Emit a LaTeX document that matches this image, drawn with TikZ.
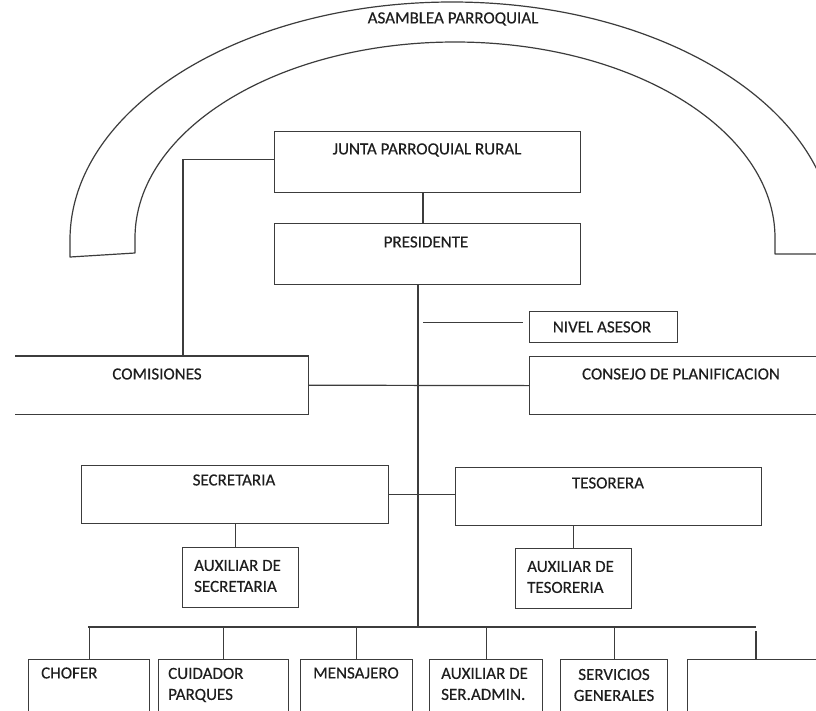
\documentclass[tikz,border=0pt]{standalone}
\usepackage{fontspec}
\setmainfont[FakeBold=0.3]{Carlito}
\definecolor{ln}{HTML}{3C3C3C}
\definecolor{tx}{HTML}{1E1E1E}
\begin{document}
\begin{tikzpicture}[x=1pt,y=-1pt,
  conn/.style={draw=ln, line width=1.2pt},
  archline/.style={draw=ln, line width=1.2pt, line join=round},
  box/.style={draw=ln, line width=1.2pt, rectangle, inner sep=0pt, anchor=north west},
  openbox/.style={rectangle, inner sep=0pt, anchor=north west},
  lbl/.style={font=\fontsize{17}{21}\selectfont, text=tx, inner sep=0pt}]
\useasboundingbox (0,0) rectangle (816,710);
\clip (0,0) rectangle (816,710);
\fill[white] (0,0) rectangle (816,710);

% arch
\draw[archline] (830,254) -- (775,254) -- (775,238)
  arc[start angle=0, end angle=180, x radius=320pt, y radius=196pt]
  -- (135,253) -- (70,257) -- (70,240)
  arc[start angle=180, end angle=0, x radius=382pt, y radius=238pt];
\node[lbl] (asamblea) at (453,19) {ASAMBLEA PARROQUIAL};

% boxes
\node[box, minimum width=306pt, minimum height=61pt] (junta) at (274,131) {};
\node[box, minimum width=306pt, minimum height=61pt] (pres) at (274,223) {};
\node[box, minimum width=148pt, minimum height=31pt] (asesor) at (529,311) {};
\node[box, minimum width=320pt, minimum height=58pt] (consejo) at (529,356) {};
\node[openbox, minimum width=293pt, minimum height=58pt] (com) at (15,356) {};
\draw[conn] (com.north west) -- (com.north east) -- (com.south east) -- (com.south west);
\node[box, minimum width=307pt, minimum height=58pt] (secr) at (81,465) {};
\node[box, minimum width=306pt, minimum height=58pt] (teso) at (455,467) {};
\node[box, minimum width=116pt, minimum height=60pt] (auxsec) at (182,547) {};
\node[box, minimum width=116pt, minimum height=60pt] (auxtes) at (515,548) {};
\node[box, minimum width=121pt, minimum height=80pt] (chofer) at (28,659) {};
\node[box, minimum width=130pt, minimum height=80pt] (cuid) at (158,659) {};
\node[box, minimum width=112pt, minimum height=80pt] (mens) at (300,659) {};
\node[box, minimum width=113pt, minimum height=80pt] (auxser) at (429,659) {};
\node[box, minimum width=107pt, minimum height=80pt] (serv) at (560,659) {};
\node[box, minimum width=153pt, minimum height=80pt] (vacio) at (687,659) {};

% labels
\node[lbl] at (427,150) {JUNTA PARROQUIAL RURAL};
\node[lbl] at (426,242) {PRESIDENTE};
\node[lbl] at (602,327) {NIVEL ASESOR};
\node[lbl] at (681,374) {CONSEJO DE PLANIFICACION};
\node[lbl] at (157,374) {COMISIONES};
\node[lbl] at (234,480) {SECRETARIA};
\node[lbl] at (608,483) {TESORERA};
\node[lbl, align=left, anchor=west] at (194,576) {AUXILIAR DE\\SECRETARIA};
\node[lbl, align=left, anchor=west] at (527,577) {AUXILIAR DE\\TESORERIA};
\node[lbl, anchor=west] at (41,673) {CHOFER};
\node[lbl, align=left, anchor=west] at (168,685) {CUIDADOR\\PARQUES};
\node[lbl, anchor=west] at (313,673) {MENSAJERO};
\node[lbl, align=left, anchor=west] at (441,684) {AUXILIAR DE\\SER.ADMIN.};
\node[lbl, align=center] at (614,685) {SERVICIOS\\GENERALES};

% connectors
\coordinate (comtop) at (183,356);
\coordinate (bus) at (418,627);
\coordinate (busL) at (88,627);
\coordinate (busR) at (756,627);
\draw[conn] ([yshift=3pt]junta.west) -| (comtop);
\draw[conn] (junta.south -| 423,0) -- (pres.north -| 423,0);
\draw[conn] (pres.south -| bus) -- (bus);
\draw[conn, shorten <=5pt, shorten >=6pt] ([yshift=5pt]asesor.west -| bus) -- ([yshift=5pt]asesor.west);
\draw[conn] (com.east) -- (consejo.west);
\draw[conn] (secr.east) -- (secr.east -| teso.west);
\draw[conn] (secr.south) -- (secr.south |- auxsec.north);
\draw[conn] (auxtes.north |- teso.south) -- (auxtes.north);
\draw[conn] (busL) -- (busR);
\draw[conn] (chofer.north |- bus) -- (chofer.north);
\draw[conn] (cuid.north |- bus) -- (cuid.north);
\draw[conn] (mens.north |- bus) -- (mens.north);
\draw[conn] (auxser.north |- bus) -- (auxser.north);
\draw[conn] (serv.north |- bus) -- (serv.north);
\draw[conn] (vacio.north west -| busR) -- ([yshift=-4pt]busR);
\end{tikzpicture}
\end{document}
